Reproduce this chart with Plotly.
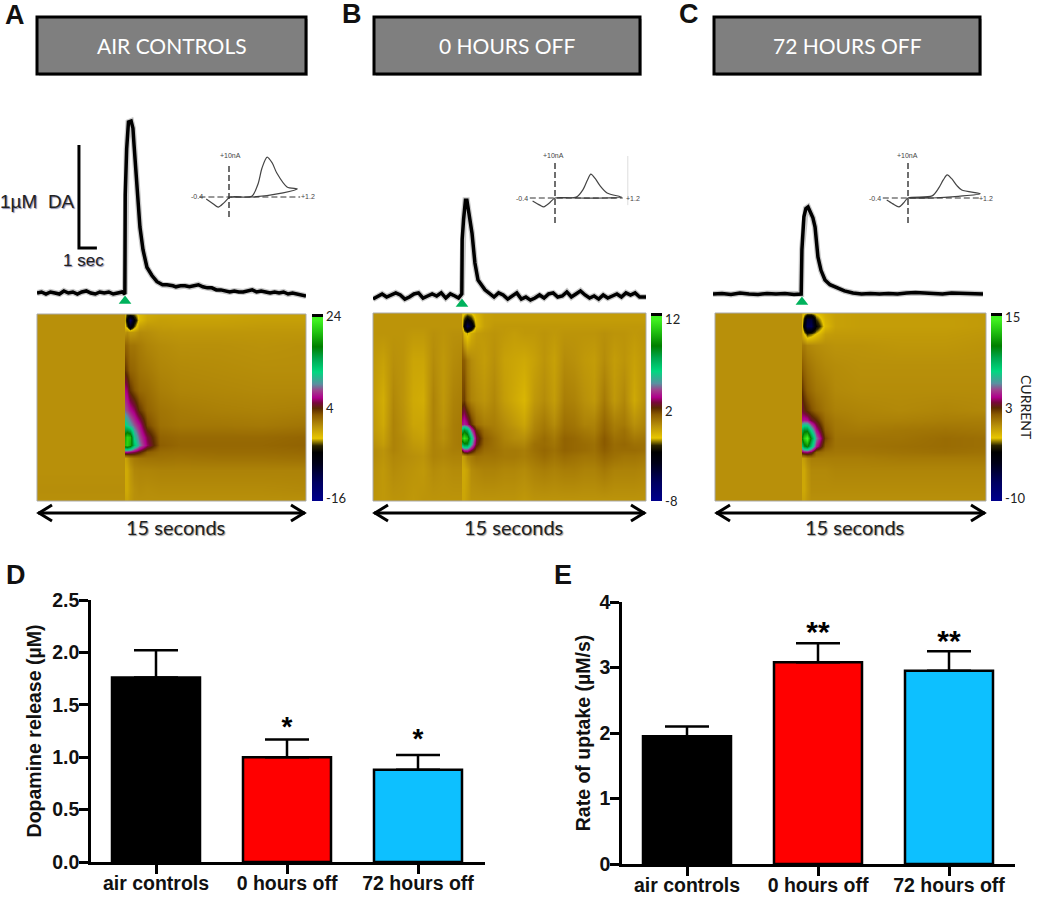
import plotly.graph_objects as go

W, H = 1050, 908
BOLD = "Liberation Sans"
SOFT = "Lato"

# ---------- bar charts ----------
groups = ["air controls", "0 hours off", "72 hours off"]
bar_colors = ["#000000", "#ff0000", "#0dc0ff"]
release = [1.76, 1.0, 0.88]
release_err = [0.26, 0.17, 0.14]
uptake = [1.95, 3.08, 2.95]
uptake_err = [0.15, 0.29, 0.30]
release_stars = ["", "*", "*"]
uptake_stars = ["", "**", "**"]
release_star_y = [0, 1.27, 1.15]
uptake_star_y = [0, 3.50, 3.36]

# ---------- dopamine traces (seconds, uM) ----------
trace_a_t = [0,.25,.5,.75,1,1.25,1.5,1.75,2,2.25,2.5,2.75,3,3.25,3.5,3.75,4,4.25,4.5,4.75,4.9,4.92,5.0,5.1,5.25,5.35,5.41,5.58,5.74,5.91,6.13,6.41,6.69,7,7.25,7.58,7.75,8,8.25,8.5,8.75,9,9.25,9.5,9.75,10,10.25,10.5,10.75,11,11.25,11.5,11.75,12,12.25,12.5,12.75,13,13.25,13.5,13.75,14,14.25,14.5,14.75,15]
trace_a_v = [0,.01,-.01,.01,0,-.01,.02,0,.01,-.01,.01,.02,0,-.01,.01,0,.01,-.01,0,.01,-.01,.95,1.4,1.66,1.67,1.6,1.44,1.0,.64,.42,.25,.17,.11,.08,.08,.07,.06,.07,.07,.06,.07,.08,.06,.05,.05,.03,.03,.02,.01,.02,.01,.01,.02,.03,.01,.02,.01,0,.01,0,.01,-.01,0,-.01,-.02,-.03]
trace_b_t = [0,.25,.5,.75,1,1.25,1.5,1.75,2,2.25,2.5,2.75,3,3.25,3.5,3.75,4,4.25,4.5,4.7,4.88,4.9,4.98,5.08,5.16,5.22,5.44,5.6,5.77,6.15,6.4,6.65,6.9,7.15,7.4,7.65,7.9,8.15,8.4,8.65,8.9,9.15,9.4,9.65,9.9,10.15,10.4,10.65,10.9,11.15,11.4,11.65,11.9,12.15,12.4,12.65,12.9,13.15,13.4,13.65,13.9,14.15,14.4,14.65,15]
trace_b_v = [-.03,0,.02,-.01,.01,.03,.01,-.03,-.01,.02,.03,-.02,0,.02,0,.03,-.02,.02,.0,-.02,.02,.55,.75,.93,.93,.86,.61,.32,.155,.06,.02,-.01,.03,.01,-.03,0,.03,-.03,-.01,-.04,-.02,.01,-.02,.02,.03,-.01,.0,.04,-.01,.02,.05,.01,-.02,0,-.03,.01,-.02,.0,.02,-.01,.03,.01,.03,-.01,-.01]
trace_c_t = [0,.5,1,1.5,2,2.5,3,3.5,4,4.5,4.9,4.94,5.05,5.16,5.28,5.4,5.55,5.67,5.83,6.0,6.22,6.5,6.89,7.3,7.78,8.25,8.75,9.25,9.75,10.25,10.75,11.25,11.75,12.25,12.75,13.25,13.75,14.25,14.75,15]
trace_c_v = [0,.005,-.005,.01,0,-.005,.005,0,.005,-.005,0,.43,.75,.83,.845,.8,.74,.65,.36,.23,.136,.09,.058,.03,.01,0,.005,0,.005,0,.01,.015,.01,.005,0,.01,.005,.005,-.005,0]
stim_times = [4.91, 4.89, 4.94]

# ---------- inset voltammograms (volts, nA) ----------
cv_a_v = [-.40,-.30,-.19,-.09,.02,.40,.51,.58,.67,.76,.84,1.02,1.2,.95,.42,.02]
cv_a_i = [-.5,-1.4,-2.4,-1.4,0,.2,3.1,6.9,9.5,8.1,5.7,2.4,1.9,1.0,0,0]
cv_b_v = [-.4,-.27,-.2,-.1,0,.38,.5,.58,.64,.72,.8,.93,1.19,.9,.4,0]
cv_b_i = [-.7,-1.7,-2.1,-1.2,0,.2,2.0,4.3,5.7,4.6,3.0,1.2,.2,0,0,0]
cv_c_v = [-.38,-.27,-.16,-.08,0,.43,.55,.63,.7,.78,.87,.96,1.29,.9,.43,0]
cv_c_i = [-.5,-1.4,-2.1,-1.2,0,.5,2.4,4.3,5.5,4.6,3.0,1.9,1.0,.4,0,0]

# ---------- colour plots (seconds, scan index, nA) ----------
heat_a_x = [0,4.85,4.91,5.02,5.19,5.41,5.69,6.13,6.86,7.98,10.2,12.55,15]
heat_a_y = [0,5.9,16.6,23,26.2,30,34.2,40.6,48.7,59.4,70,83.4,90.4,93.6,96.8,100]
heat_a_z = [
 [0,0,-.8,-.9,-.4,0,0,0,0,0,0,0,0],
 [.1,.1,-1.2,-1.2,-.5,0,.2,.1,.2,.2,.2,.2,.3],
 [0,0,-1.3,-1.2,-.3,.4,.5,.5,.6,.6,.6,.6,.6],
 [0,0,-1,-.5,.5,1,1.2,1.3,1.3,1.2,1.3,1.3,1.4],
 [0,0,6,6,5.5,5,4,2.2,1.6,1.5,1.6,1.6,1.7],
 [0,0,20,21,19,13,9,5.5,2.2,1.8,1.8,1.8,2],
 [0,0,19,21,20,11,8,5,2,1.7,1.7,1.7,1.9],
 [0,0,12,11,9.5,8,6.5,3,1.4,1.1,1.1,1,1.2],
 [0,0,8,7.5,6.5,5.5,3.5,2,1.2,.9,.7,.6,.7],
 [0,0,6,5.5,3.5,2.6,1.8,1.5,.8,.5,.4,.3,.3],
 [0,0,3.5,3,2,1.8,1.3,1,.5,.3,.2,.1,.1],
 [0,0,2,1.8,1.2,1.2,.9,.5,.2,0,0,-.1,0],
 [0,0,-.2,.2,-.4,-.3,.2,.1,-.2,-.3,-.3,-.3,-.3],
 [0,0,-2.5,-4,-8,-4,-.8,-.4,-.5,-.6,-.6,-.5,-.5],
 [0,0,-3,-6,-12,-6,-2,-1,-.7,-.8,-.8,-.7,-.7],
 [0,0,-2.8,-4,-4,-3.5,-2,-1.2,-1,-1,-1,-.8,-.8],
]
heat_b_x = [0,.55,1.1,1.65,2.2,2.75,3.3,3.85,4.4,4.84,4.89,5.0,5.16,5.38,5.66,6.1,6.65,7.2,7.75,8.3,8.85,9.4,9.95,10.5,11.04,11.59,12.14,12.69,13.24,13.79,14.34,15]
heat_b_y = [0,16.5,23.9,27.1,30.3,33.5,37.8,41,53.7,75,89.4,93.1,96.8,100]
heat_b_z = [
 [-.1,-.2,-.1,-.1,-.2,-.1,-.1,-.1,-.1,-.1,-.5,-.5,-.3,-.1,-.1,-.1,-.1,-.1,-.1,-.2,-.1,-.1,-.1,-.1,-.1,-.1,-.1,-.1,-.1,-.1,-.1,-.1],
 [0,-.2,.1,0,-.1,-.2,.1,0,.1,.1,-.6,-.6,-.4,.1,.2,.3,.3,.2,.2,.1,.3,.4,.3,.4,.4,.3,.3,.5,.3,.3,.3,.2],
 [.1,-.1,.2,.1,0,-.1,.3,.2,.3,.3,-.4,-.2,.3,.5,.7,.6,.6,.5,.5,.4,.6,.8,.6,.8,.7,.6,.6,.9,.7,.6,.6,.5],
 [.1,-.1,.3,.1,-.1,-.2,.3,.2,.4,.4,2.5,3.5,3.5,2.5,1.4,.8,.7,.5,.5,.4,.7,.9,.7,1,.9,.8,.7,1.1,.8,.8,.8,.7],
 [0,-.3,.3,.1,-.2,-.3,.3,.1,.4,.5,7,8,8,5,2.2,1,.7,.4,.3,.2,.7,.8,.6,1,.9,.8,.7,1.2,.8,.9,.7,.7],
 [-.1,-.4,.3,.1,-.3,-.4,.3,0,.4,.5,10,11,10,6,2.5,1.1,.7,.3,.1,0,.5,.8,.5,1,.9,.7,.6,1.2,.7,.8,.5,.6],
 [-.2,-.5,.3,0,-.4,-.5,.3,0,.4,.5,7,8,7,4,1.8,.8,.5,.2,0,-.3,.3,.6,.3,.8,.7,.5,.4,1,.5,.7,.2,.4],
 [-.2,-.6,.3,0,-.5,-.5,.3,-.1,.4,.5,3.2,3.5,3,1.8,.8,.4,.4,.1,-.2,-.5,.2,.5,.1,.7,.6,.3,.3,.9,.4,.5,0,.3],
 [-.3,-.7,.2,-.1,-.6,-.7,.3,-.2,.3,.4,1.5,1.6,.8,.3,.1,-.1,.2,-.3,-.6,-.9,-.2,.1,-.3,.4,.3,0,-.2,.5,-.2,.2,-.6,.1],
 [-.2,-.4,0,-.1,-.5,-.5,.1,-.2,.1,.2,1.2,1.1,.5,.1,-.1,-.3,0,-.4,-.5,-.6,-.4,-.1,-.4,.1,0,-.2,-.3,.1,-.3,-.1,-.4,-.1],
 [-.1,-.1,-.1,-.1,-.2,-.2,0,-.1,0,0,.1,-1,-1.5,-.7,-.3,-.2,-.1,-.2,-.3,-.2,-.2,-.1,-.2,-.1,-.1,-.1,-.1,0,-.1,-.1,-.2,-.1],
 [-.1,-.1,-.1,-.1,-.1,-.1,-.1,-.1,-.1,-.1,-1,-3,-5.5,-4,-1,-.4,-.2,-.2,-.2,-.2,-.2,-.2,-.2,-.2,-.2,-.2,-.2,-.2,-.2,-.2,-.2,-.2],
 [-.1,-.1,-.1,-.1,-.1,-.1,-.1,-.1,-.1,-.1,-1.2,-2,-3,-2.2,-1,-.4,-.3,-.3,-.3,-.3,-.3,-.3,-.3,-.3,-.3,-.3,-.3,-.3,-.3,-.3,-.3,-.3],
 [-.1,-.1,-.1,-.1,-.1,-.1,-.1,-.1,-.1,-.1,-1,-1.2,-1.4,-1.3,-.8,-.4,-.3,-.3,-.3,-.3,-.3,-.3,-.3,-.3,-.3,-.3,-.3,-.3,-.3,-.3,-.3,-.3],
]
heat_c_x = [0,4.76,4.81,4.93,5.09,5.31,5.59,6.09,6.64,8.02,10.24,12.73,15]
heat_c_y = [0,5.9,16.5,22.9,26.1,29.3,33.5,37.8,43.1,48.4,59,72.3,83,88.8,93.1,96.8,100]
heat_c_z = [
 [0,0,-.5,-.5,-.2,0,0,0,0,0,0,0,0],
 [0,0,-.7,-.7,-.3,.1,.1,.1,.1,.1,.1,.1,.1],
 [0,0,-.7,-.7,-.2,.2,.2,.2,.3,.3,.3,.3,.3],
 [0,0,-.5,-.3,.2,.5,.5,.5,.5,.5,.6,.6,.6],
 [0,0,3.2,3.5,3.6,3,1.2,.8,.7,.7,.8,.9,.8],
 [0,0,8,10,11,8,4.2,1.4,.8,.8,.9,1,.9],
 [0,0,11,13,14.5,10,5.5,1.9,.8,.8,.8,1,.9],
 [0,0,9,10,10,7,4,1.4,.7,.6,.7,.8,.7],
 [0,0,4,4.2,4,3,2.4,1,.6,.4,.4,.5,.5],
 [0,0,3,2.6,2.2,1.7,1.2,.7,.4,.3,.2,.3,.2],
 [0,0,2.2,1.8,1.3,1,.7,.5,.2,.1,.1,.1,.1],
 [0,0,1.4,1.1,.8,.6,.4,.2,.1,0,0,0,0],
 [0,0,.6,.6,.3,.2,.1,0,-.1,-.1,-.2,-.2,-.1],
 [0,0,-.6,-1.5,-2.6,-2.2,-1.5,-.4,-.3,-.3,-.3,-.3,-.2],
 [0,0,-1.5,-4,-7,-7,-3.5,-1.2,-.5,-.4,-.4,-.4,-.3],
 [0,0,-1.2,-3,-6,-6,-2.5,-1,-.5,-.4,-.4,-.4,-.3],
 [0,0,-.8,-1.4,-1.8,-1.8,-1.4,-.8,-.5,-.4,-.4,-.3,-.3],
]
color_stops = [
 [0,"#00008c"],[.1,"#000060"],[.2,"#000018"],[.26,"#000000"],[.295,"#2a2400"],[.335,"#e8c600"],
 [.4,"#b8900a"],[.46,"#8a5a00"],[.495,"#5a2a00"],[.525,"#78083c"],[.552,"#b0008c"],[.59,"#a0408c"],
 [.625,"#5a90a0"],[.69,"#00d880"],[.76,"#00a850"],[.825,"#007f00"],[.9,"#20c010"],[.965,"#40f020"],
 [.982,"#40f020"],[.983,"#000000"],[1,"#000000"],
]
colorbar_ticks = [(-16,4,24), (-8,2,12), (-10,3,15)]
colorbar_tickvals = [(-15.4,3.8,23.4), (-8,1.57,11.36), (-9.6,2.37,14.47)]

panels = [
 dict(title="AIR CONTROLS", box=(37,306), hx=(37,306), hy=(314,501), cb=312, z=heat_a_z, xs=heat_a_x, ys=heat_a_y,
      zr=(-16,24), t=trace_a_t, v=trace_a_v, stim=stim_times[0], tx=(37,306), base=293,
      cvv=cv_a_v, cvi=cv_a_i, cv0=(229,197), cvspan=(-.52,1.25), cvscale=56.9, dash=(165,217),
      lab=[("+10nA",230,155),("-0.4",197,197),("+1.2",308,197)]),
 dict(title="0 HOURS OFF", box=(374,640), hx=(373,646), hy=(313,501), cb=651, z=heat_b_z, xs=heat_b_x, ys=heat_b_y,
      zr=(-8,12), t=trace_b_t, v=trace_b_v, stim=stim_times[1], tx=(373,646), base=296,
      cvv=cv_b_v, cvi=cv_b_i, cv0=(555,198), cvspan=(-.45,1.21), cvscale=56, dash=(160,223),
      lab=[("+10nA",553,155),("-0.4",522,199),("+1.2",633,199)]),
 dict(title="72 HOURS OFF", box=(714,980), hx=(715,986), hy=(313,501), cb=991, z=heat_c_z, xs=heat_c_x, ys=heat_c_y,
      zr=(-10,15), t=trace_c_t, v=trace_c_v, stim=stim_times[2], tx=(713,983), base=294,
      cvv=cv_c_v, cvi=cv_c_i, cv0=(908,198), cvspan=(-.45,1.29), cvscale=56, dash=(160,223),
      lab=[("+10nA",907,155),("-0.4",875,199),("+1.2",986,199)]),
]

PX_PER_UM = 103.0
fig = go.Figure()
layout = dict(width=W, height=H, margin=dict(l=0,r=0,t=0,b=0,autoexpand=False), paper_bgcolor="white", plot_bgcolor="rgba(0,0,0,0)",
              showlegend=False, shapes=[], annotations=[])
n_axes = [0]

def px(x): return x / W
def py(y): return 1 - y / H

def add_axes(xpx, ypx, xr, yr, **extra):
    n_axes[0] += 1
    n = n_axes[0]
    s = "" if n == 1 else str(n)
    xa = dict(domain=[px(xpx[0]), px(xpx[1])], range=list(xr), visible=False, anchor="y"+s)
    ya = dict(domain=[py(ypx[1]), py(ypx[0])], range=list(yr), visible=False, anchor="x"+s)
    xa.update(extra.get("x", {})); ya.update(extra.get("y", {}))
    layout["xaxis"+s] = xa; layout["yaxis"+s] = ya
    return "x"+s, "y"+s

def note(text, x, y, size, font=SOFT, color="#000000", bold=False, angle=0, shadow=None):
    f = dict(family=font, size=size, color=color)
    if bold: f["weight"] = "bold"
    if shadow: f["shadow"] = shadow
    layout["annotations"].append(dict(text=text, x=px(x), y=py(y), xref="paper", yref="paper",
        showarrow=False, font=f, textangle=angle, xanchor="center", yanchor="middle"))

def paper_path(points):
    d = "M " + " L ".join(f"{px(a):.5f} {py(b):.5f}" for a, b in points)
    return dict(type="path", path=d, xref="paper", yref="paper", line=dict(color="black", width=3))

for k, p in enumerate(panels):
    x0, x1 = p["box"]
    layout["shapes"].append(dict(type="rect", x0=px(x0+2), x1=px(x1+2), y0=py(76), y1=py(19), xref="paper", yref="paper",
                                 fillcolor="#c4c4c4", line=dict(width=0)))
    layout["shapes"].append(dict(type="rect", x0=px(x0), x1=px(x1), y0=py(74), y1=py(17), xref="paper", yref="paper",
                                 fillcolor="#7f7f7f", line=dict(color="black", width=3)))
    note(p["title"], (x0+x1)/2, 46, 21, color="white")

    # colour plot
    hx, hy = p["hx"], p["hy"]
    xa, ya = add_axes(hx, hy, (0,15), (0,100))
    fig.add_trace(go.Heatmap(x=p["xs"], y=p["ys"], z=p["z"], xaxis=xa, yaxis=ya, zsmooth="best",
        colorscale=color_stops, zmin=p["zr"][0], zmax=p["zr"][1], hoverinfo="skip",
        colorbar=dict(thickness=11, thicknessmode="pixels", len=(hy[1]-hy[0])/H, lenmode="fraction",
            x=px(p["cb"]), xanchor="left", y=py(hy[1]), yanchor="bottom", xpad=0, ypad=0, outlinewidth=0, borderwidth=0,
            ticks="", tickmode="array", tickvals=list(colorbar_tickvals[k]),
            ticktext=[str(v) for v in colorbar_ticks[k]],
            tickfont=dict(family=SOFT, size=13, color="#222222"))))
    layout["shapes"].append(dict(type="rect", x0=px(hx[0]), x1=px(hx[1]), y0=py(hy[1]), y1=py(hy[0]), xref="paper", yref="paper",
                                 line=dict(color="#aaaaaa", width=1)))

    # trace
    tx = p["tx"]; b = p["base"]
    xa, ya = add_axes(tx, (110,310), (0,15), ((b-310)/PX_PER_UM, (b-110)/PX_PER_UM))
    fig.add_trace(go.Scatter(x=p["t"], y=p["v"], xaxis=xa, yaxis=ya, mode="lines", hoverinfo="skip",
                             line=dict(color="#c9c9c9", width=6)))
    fig.add_trace(go.Scatter(x=p["t"], y=p["v"], xaxis=xa, yaxis=ya, mode="lines", hoverinfo="skip",
                             line=dict(color="black", width=3.5)))
    fig.add_trace(go.Scatter(x=[p["stim"]], y=[-8/PX_PER_UM], xaxis=xa, yaxis=ya, mode="markers", hoverinfo="skip",
                             marker=dict(symbol="triangle-up", size=11, color="#00b25c"), cliponaxis=False))
    if k == 0:
        layout["shapes"].append(dict(type="path", xref=xa, yref=ya, line=dict(color="black", width=3),
            path="M 2.34 1.437 L 2.34 0.437 L 3.34 0.437"))
        note("1µM  DA", 37, 201, 19, font=BOLD, color="#222222", shadow="1px 1px 1px #8888aa")
        note("1 sec", 83, 260, 17, font=BOLD, color="#222222", shadow="1px 1px 1px #8888aa")

    # inset voltammogram
    c0x, c0y = p["cv0"]
    s = p["cvscale"]
    ix = (c0x-45, c0x+90); iy = (150, 228)
    xa, ya = add_axes(ix, iy, ((ix[0]-c0x)/s, (ix[1]-c0x)/s), ((c0y-iy[1])/4.2, (c0y-iy[0])/4.2))
    fig.add_trace(go.Scatter(x=p["cvv"], y=p["cvi"], xaxis=xa, yaxis=ya, mode="lines", hoverinfo="skip",
                             line=dict(color="#444444", width=1.2, shape="spline", smoothing=0.8)))
    layout["shapes"].append(dict(type="line", xref=xa, yref=ya, x0=p["cvspan"][0], x1=p["cvspan"][1], y0=0, y1=0,
                                 line=dict(color="#333333", width=1, dash="6px,3px")))
    layout["shapes"].append(dict(type="line", xref=xa, yref=ya, x0=0, x1=0,
                                 y0=(c0y-p["dash"][1])/4.2, y1=(c0y-p["dash"][0])/4.2,
                                 line=dict(color="#333333", width=1.4, dash="6px,3px")))
    if k == 1:
        layout["shapes"].append(dict(type="line", xref=xa, yref=ya, x0=1.3, x1=1.3, y0=-1.7, y1=10,
                                     line=dict(color="#dddddd", width=1)))
    for text, lx, ly in p["lab"]:
        note(text, lx, ly, 7, font=BOLD, color="#444444")

    # 15 seconds arrow
    layout["shapes"].append(paper_path([(hx[0]+1,513),(hx[1]-1,513)]))
    layout["shapes"].append(paper_path([(hx[0]+15,505),(hx[0]+2,513),(hx[0]+15,521)]))
    layout["shapes"].append(paper_path([(hx[1]-15,505),(hx[1]-2,513),(hx[1]-15,521)]))
    note("15 seconds", (hx[0]+hx[1])/2+4, 527, 20, color="#222222", shadow="1px 1px 1px #999999")

note("CURRENT", 1027, 407, 14, angle=90, color="#222222")
for letter, x, y in [("A",15,15),("B",352,14),("C",689,14),("D",16,575),("E",563,575)]:
    note(letter, x, y, 27, font=BOLD, bold=True, color="#111111")

def bar_panel(xdom, ydom, cat_px, vals, errs, ymax, dtick, fmt, title, stars, star_y, star_size, title_gap):
    step = cat_px[1] - cat_px[0]
    xr = ((xdom[0]-cat_px[0])/step, (xdom[1]-cat_px[0])/step)
    axfont = dict(family=BOLD, size=19.5, color="#111111", weight="bold")
    xa, ya = add_axes(xdom, ydom, xr, (0, ymax),
        x=dict(visible=True, showline=True, linecolor="black", linewidth=2.5, ticks="outside", ticklen=9, tickwidth=2.5,
               tickcolor="black", tickmode="array", tickvals=[0,1,2], ticktext=groups, tickfont=axfont, showgrid=False, zeroline=False,
               ticklabelstandoff=-7),
        y=dict(visible=True, showline=True, linecolor="black", linewidth=2.5, ticks="outside", ticklen=9, tickwidth=2.5,
               tickcolor="black", tick0=0, dtick=dtick, tickformat=fmt, tickfont=dict(family=BOLD, size=19.5, color="#111111", weight="bold"),
               showgrid=False, zeroline=False, ticklabelstandoff=-4,
               title=dict(text=title, font=dict(family=BOLD, size=19.5, color="#111111", weight="bold"), standoff=title_gap)))
    fig.add_trace(go.Bar(x=[0,1,2], y=vals, xaxis=xa, yaxis=ya, width=88/step, hoverinfo="skip",
        marker=dict(color=bar_colors, line=dict(color="black", width=2.5)),
        error_y=dict(type="data", symmetric=False, array=errs, arrayminus=[0,0,0], color="black", thickness=2.5, width=22)))
    fig.add_trace(go.Scatter(x=[0,1,2], y=star_y, xaxis=xa, yaxis=ya, mode="text", text=stars, hoverinfo="skip",
        textposition="middle center", textfont=dict(family=BOLD, size=star_size, color="black", weight="bold"), cliponaxis=False))

bar_panel((91,485), (600,862), (156,287,418), release, release_err, 2.5, 0.5, ".1f", "Dopamine release (µM)",
          release_stars, release_star_y, 28, 6)
bar_panel((622,1015), (602,864), (687,818,949), uptake, uptake_err, 4, 1, "d", "Rate of uptake (µM/s)",
          uptake_stars, uptake_star_y, 30, 4)

fig.update_layout(**layout)
fig.write_html("out.html", config={"displayModeBar": False}, post_script="document.body.style.margin='0';")
